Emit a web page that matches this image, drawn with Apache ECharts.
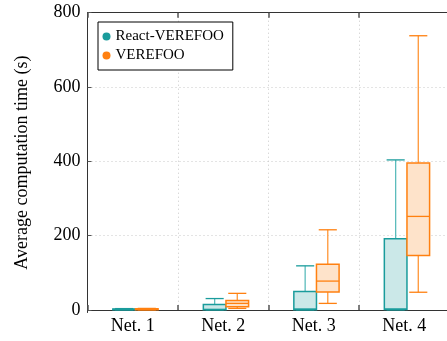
<!DOCTYPE html>
<html>
<head>
<meta charset="utf-8">
<script src="https://cdn.jsdelivr.net/npm/echarts@6/dist/echarts.min.js"></script>
<style>
html,body{margin:0;padding:0;background:#fff;}
#chart{width:447px;height:341px;}
</style>
</head>
<body>
<div id="chart"></div>
<script>
// ---- data ----
var categories = ['Net. 1', 'Net. 2', 'Net. 3', 'Net. 4'];
var yTicks = [0, 200, 400, 600, 800];

var reactMin    = [0.5, 0.5, 0.5, 0.5];
var reactQ1     = [1, 1, 1, 1.5];
var reactMedian = [1.5, 2, 3, 3];
var reactQ3     = [3, 15, 50, 192];
var reactMax    = [4, 31, 119, 404];

var verMin    = [0.5, 4.5, 18, 48];
var verQ1     = [1, 9, 48.5, 147];
var verMedian = [2, 18, 78, 252];
var verQ3     = [3.5, 26, 123, 396];
var verMax    = [4.5, 45, 216, 738];

function rows(mn, q1, md, q3, mx) {
  return categories.map(function (c, i) { return [i, mn[i], q1[i], md[i], q3[i], mx[i]]; });
}

var FONT = "'Liberation Serif', 'DejaVu Serif', serif";
var TEAL = '#1a9c9c', TEAL_FILL = '#cbe8e8', TEAL_W = '#5cbcbc';
var ORANGE = '#ff8010', ORANGE_FILL = '#fee3ca', ORANGE_W = '#ff9636';

function makeRender(offsetFrac, stroke, fill, wcol) {
  return function (params, api) {
    var cat = api.value(0);
    var band = api.size([1, 0])[0];
    var cx = api.coord([cat, 0])[0] + offsetFrac * band;
    var w = band * 0.25, cap = band * 0.2;
    var yMin = api.coord([cat, api.value(1)])[1];
    var yQ1 = api.coord([cat, api.value(2)])[1];
    var yMd = api.coord([cat, api.value(3)])[1];
    var yQ3 = api.coord([cat, api.value(4)])[1];
    var yMax = api.coord([cat, api.value(5)])[1];
    return {
      type: 'group',
      children: [
        {type: 'line', shape: {x1: cx, y1: yMax, x2: cx, y2: yQ3}, style: {stroke: wcol, lineWidth: 1.3}},
        {type: 'line', shape: {x1: cx, y1: yQ1, x2: cx, y2: yMin}, style: {stroke: wcol, lineWidth: 1.3}},
        {type: 'line', shape: {x1: cx - cap / 2, y1: yMax, x2: cx + cap / 2, y2: yMax}, style: {stroke: stroke, lineWidth: 1.3}},
        {type: 'line', shape: {x1: cx - cap / 2, y1: yMin, x2: cx + cap / 2, y2: yMin}, style: {stroke: stroke, lineWidth: 1.3}},
        {type: 'rect', shape: {x: cx - w / 2, y: yQ3, width: w, height: Math.max(yQ1 - yQ3, 0.5)}, style: {fill: fill, stroke: stroke, lineWidth: 1.5}},
        {type: 'line', shape: {x1: cx - w / 2, y1: yMd, x2: cx + w / 2, y2: yMd}, style: {stroke: stroke, lineWidth: 1.3}}
      ]
    };
  };
}

var chart = echarts.init(document.getElementById('chart'), null, {renderer: 'canvas'});
chart.setOption({
  animation: false,
  backgroundColor: '#fff',
  textStyle: {fontFamily: FONT},
  grid: {left: 87.5, top: 12.7, width: 362, height: 299.8, outerBoundsMode: 'none', containLabel: false},
  legend: {
    left: 98, top: 22, orient: 'vertical',
    padding: [6.5, 9, 6.5, 4.5],
    itemWidth: 8, itemHeight: 8, itemGap: 3,
    borderColor: '#000', borderWidth: 1, backgroundColor: '#fff',
    textStyle: {fontFamily: FONT, fontSize: 15, color: '#000', lineHeight: 16},
    data: [
      {name: 'React-VEREFOO', icon: 'circle', itemStyle: {color: TEAL}},
      {name: 'VEREFOO', icon: 'circle', itemStyle: {color: ORANGE}}
    ]
  },
  xAxis: [{
    type: 'category', data: categories, position: 'bottom',
    axisLine: {show: true, lineStyle: {color: '#333', width: 1}},
    axisTick: {show: true, inside: true, length: 5, interval: 0, lineStyle: {color: '#555', width: 1.5}},
    axisLabel: {fontFamily: FONT, fontSize: 18, color: '#000', margin: 5},
    splitLine: {show: true, interval: 0, lineStyle: {color: '#c8c8c8', type: [1, 3], width: 1}}
  }, {
    type: 'category', data: categories, position: 'top',
    axisLine: {show: true, lineStyle: {color: '#333', width: 1}},
    axisTick: {show: true, inside: true, length: 5, interval: 0, lineStyle: {color: '#555', width: 1.5}},
    axisLabel: {show: false},
    splitLine: {show: false}
  }],
  yAxis: {
    type: 'value', min: -6.5, max: 800,
    name: 'Average computation time (s)', nameLocation: 'middle', nameGap: 56, nameRotate: 90,
    nameTextStyle: {fontFamily: FONT, fontSize: 18, color: '#000'},
    axisLine: {show: true, lineStyle: {color: '#333', width: 1}},
    axisTick: {show: true, inside: true, length: 4, customValues: yTicks, lineStyle: {color: '#555', width: 1}},
    axisLabel: {fontFamily: FONT, fontSize: 18, color: '#000', margin: 7, customValues: yTicks},
    splitLine: {show: true, lineStyle: {color: '#c8c8c8', type: [1, 3], width: 1}}
  },
  series: [{
    name: 'React-VEREFOO', type: 'custom', itemStyle: {color: TEAL},
    renderItem: makeRender(-0.095, TEAL, TEAL_FILL, TEAL_W),
    encode: {x: 0, y: [1, 2, 3, 4, 5]},
    data: rows(reactMin, reactQ1, reactMedian, reactQ3, reactMax)
  }, {
    name: 'VEREFOO', type: 'custom', itemStyle: {color: ORANGE},
    renderItem: makeRender(0.155, ORANGE, ORANGE_FILL, ORANGE_W),
    encode: {x: 0, y: [1, 2, 3, 4, 5]},
    data: rows(verMin, verQ1, verMedian, verQ3, verMax)
  }]
});
</script>
</body>
</html>
